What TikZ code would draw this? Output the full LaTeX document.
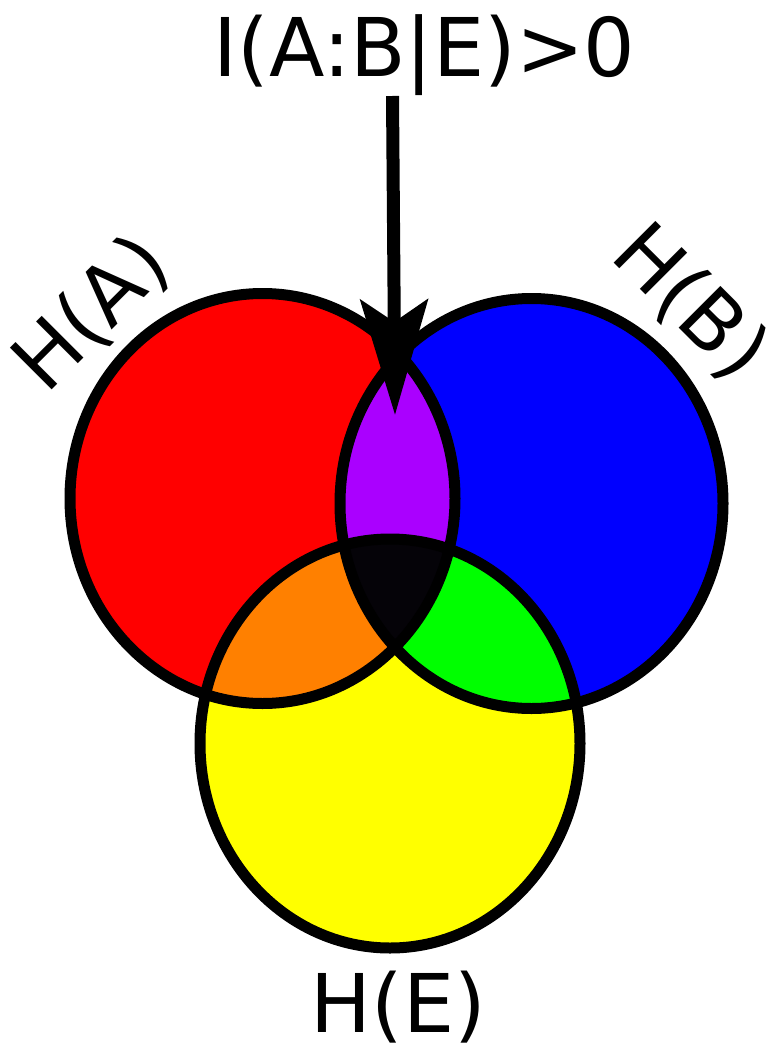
\documentclass[tikz,border=0pt]{standalone}
\usepackage{fontspec}
\setmainfont{DejaVu Sans}
\usetikzlibrary{arrows.meta}

\definecolor{setred}{RGB}{255,0,0}
\definecolor{setblue}{RGB}{0,0,255}
\definecolor{setyellow}{RGB}{255,255,0}
\definecolor{setpurple}{RGB}{170,0,255}
\definecolor{setorange}{RGB}{255,128,0}
\definecolor{setgreen}{RGB}{0,255,0}
\definecolor{setcore}{RGB}{5,3,8}

% the three entropy sets
\newcommand{\setA}{(262.5,498.5) ellipse [x radius=192.5pt, y radius=205pt]}
\newcommand{\setB}{(531.5,503.5) ellipse [x radius=191.5pt, y radius=205pt]}
\newcommand{\setE}{(390,743.5) ellipse [x radius=190pt, y radius=204.5pt]}

\begin{document}
\begin{tikzpicture}[
  x=1pt, y=-1pt,
  ring/.style={draw=black, line width=11pt},
  lbl/.style={font=\fontsize{81}{97}\selectfont, inner sep=0pt},
  arr/.style={line width=13pt, -{Stealth[length=115pt, width=67pt, inset=22pt]}}
]
\useasboundingbox (0,0) rectangle (765,1043);
% plain regions
\fill[setred] \setA;
\fill[setblue] \setB;
\fill[setyellow] \setE;
% pairwise overlaps
\begin{scope}
  \clip \setA;
  \fill[setpurple] \setB;
  \fill[setorange] \setE;
\end{scope}
\begin{scope}
  \clip \setB;
  \fill[setgreen] \setE;
\end{scope}
% triple overlap
\begin{scope}
  \clip \setA;
  \clip \setB;
  \fill[setcore] \setE;
\end{scope}
% outlines
\draw[ring] \setA;
\draw[ring] \setB;
\draw[ring] \setE;
% labels
\node[lbl, anchor=base] (cmi) at (424.5,77) {I(A:B|E)>0};
\node[lbl, rotate=45] (ha) at (92,314) {H(A)};
\node[lbl, rotate=-45] (hb) at (690,303) {H(B)};
\node[lbl, anchor=base] (he) at (398.5,1032) {H(E)};
% pointer to the conditional overlap
\coordinate (tail) at (392.5,96);
\coordinate (tip) at (395,415);
\draw[arr] (tail) -- (tip);
\end{tikzpicture}
\end{document}
